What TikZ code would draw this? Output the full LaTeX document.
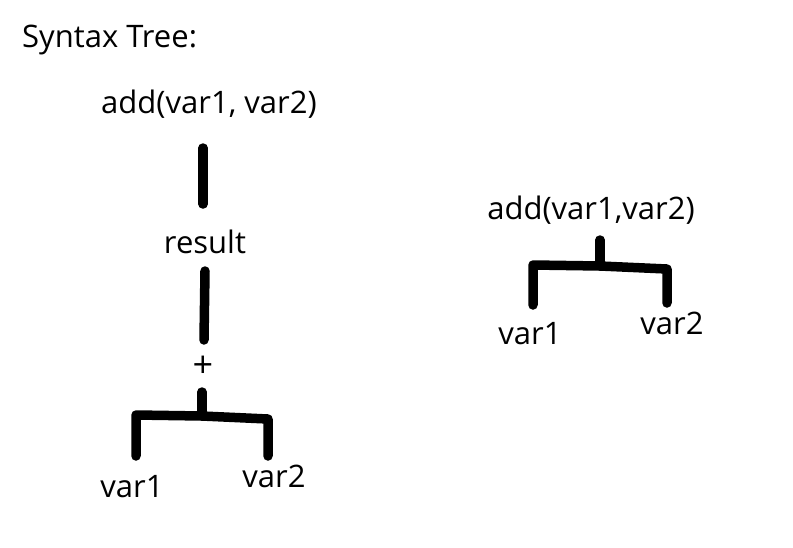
\documentclass[tikz,border=0pt]{standalone}
\usepackage{fontspec}
\setmainfont{Open Sans}
\usetikzlibrary{positioning}

\begin{document}
\begin{tikzpicture}[x = 1pt, y = -1pt,
	stroke/.style = {line width = 9.5pt, line cap = round, line join = round},
	word/.style = {font = \fontsize{31}{36}\selectfont, inner sep = 0pt},
	small/.style = {font = \fontsize{36}{40}\selectfont, inner sep = 0pt}]

\useasboundingbox (0, 0) rectangle (793, 547);

% Title

\node [word, anchor = west] (title) at (22, 40) {Syntax Tree:};

% Left tree: labels

\node [word] (callL) at (209, 104) {add(var1, var2)};
\node [word] (result) at (205, 242) {result};
\node [small] (plus) at (203, 367) {+};
\node [word] (varLa) at (132, 487) {var1};
\node [word] (varLb) at (274, 476) {var2};

% Left tree: stick ends

\coordinate (callLdown) at (203, 148);
\coordinate (resultup) at (203, 204);
\coordinate (resultdown) at (205, 271);
\coordinate (plusup) at (204, 340);
\coordinate (plusdown) at (202, 392);
\coordinate (barLa) at (136, 415);
\coordinate (barLm) at (202, 416);
\coordinate (barLb) at (268, 419);
\coordinate (legLa) at (136, 456);
\coordinate (legLb) at (268, 456);

% Left tree: sticks

\draw [stroke] (callLdown) -- (resultup);
\draw [stroke] (resultdown) -- (plusup);
\draw [stroke] (plusdown) -- (barLm);
\draw [stroke] (legLa) -- (barLa) -- (barLm) -- (barLb) -- (legLb);

% Right tree: labels

\node [word] (callR) at (591, 210) {add(var1,var2)};
\node [word] (varRa) at (530, 334) {var1};
\node [word] (varRb) at (672, 323) {var2};

% Right tree: stick ends

\coordinate (callRdown) at (600, 240);
\coordinate (barRa) at (533, 265);
\coordinate (barRm) at (600, 266);
\coordinate (barRb) at (667, 269);
\coordinate (legRa) at (533, 305);
\coordinate (legRb) at (667, 303);

% Right tree: sticks

\draw [stroke] (callRdown) -- (barRm);
\draw [stroke] (legRa) -- (barRa) -- (barRm) -- (barRb) -- (legRb);

\end{tikzpicture}
\end{document}
